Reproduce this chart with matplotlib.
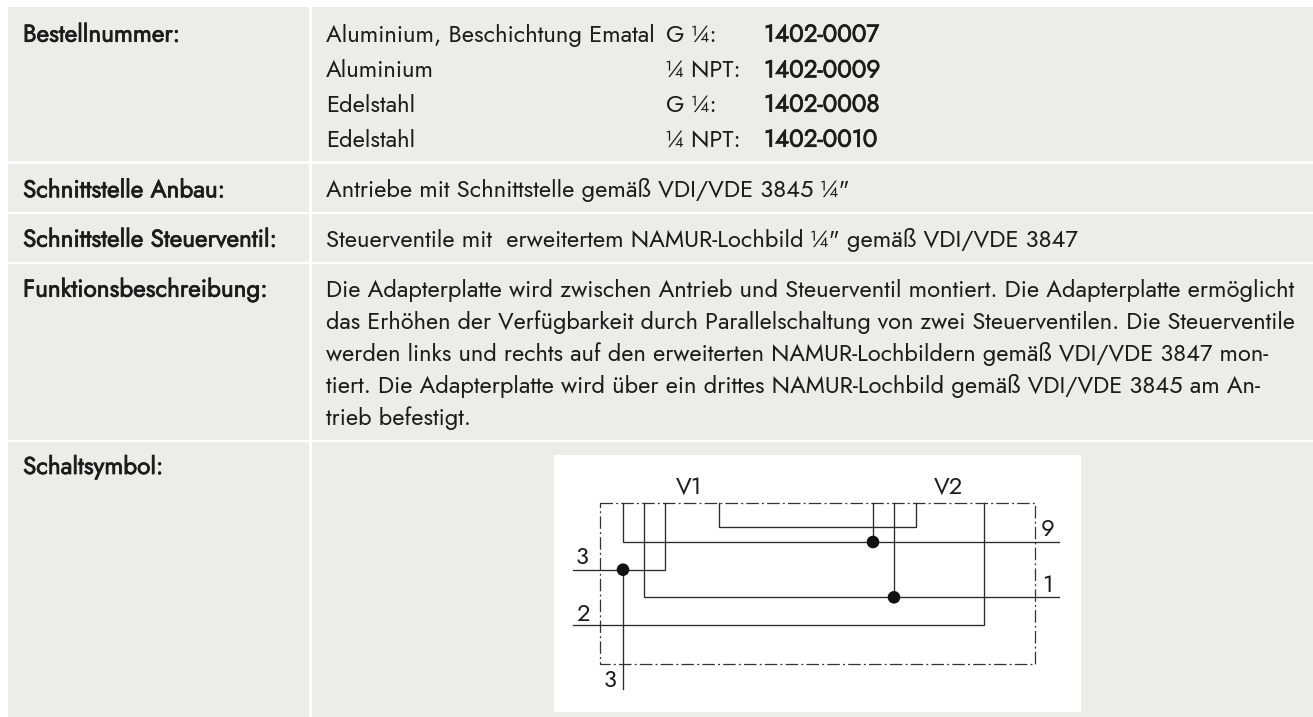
import matplotlib
matplotlib.use('Agg')
import matplotlib.pyplot as plt
import matplotlib.patheffects as pe
from matplotlib.patches import Rectangle, Circle

plt.rcParams['font.family'] = ['Jost', 'Lato', 'DejaVu Sans']
plt.rcParams['lines.scale_dashes'] = False

GREY = '#ececeb'
INK = '#1c1c1c'
BODY = 17.15
LABEL = 17.5
# the font has one weight here, so bold is thickened with a stroke
HEAVY = [pe.withStroke(linewidth=0.55, foreground=INK)]

# table rows, top and bottom in image pixels
row_tops = [7, 163.5, 213.5, 263.5, 442]
row_bottoms = [161, 211.5, 261.5, 439.5, 717]

labels = ['Bestellnummer:', 'Schnittstelle Anbau:', 'Schnittstelle Steuerventil:',
          'Funktionsbeschreibung:', 'Schaltsymbol:']
label_base = [41.7, 197.3, 246.7, 296.7, 474]

material = ['Aluminium, Beschichtung Ematal', 'Aluminium', 'Edelstahl', 'Edelstahl']
thread = ['G ¼:', '¼ NPT:', 'G ¼:', '¼ NPT:']
order_no = ['1402-0007', '1402-0009', '1402-0008', '1402-0010']
order_base = [41.7, 77.3, 111.7, 146.7]

anbau = 'Antriebe mit Schnittstelle gemäß VDI/VDE 3845 ¼"'
steuer = 'Steuerventile mit  erweitertem NAMUR-Lochbild ¼" gemäß VDI/VDE 3847'
beschreibung = ['Die Adapterplatte wird zwischen Antrieb und Steuerventil montiert. Die Adapterplatte ermöglicht',
                'das Erhöhen der Verfügbarkeit durch Parallelschaltung von zwei Steuerventilen. Die Steuerventile',
                'werden links und rechts auf den erweiterten NAMUR-Lochbildern gemäß VDI/VDE 3847 mon-',
                'tiert. Die Adapterplatte wird über ein drittes NAMUR-Lochbild gemäß VDI/VDE 3845 am An-',
                'trieb befestigt.']
beschreibung_base = [296.7, 328.7, 360.5, 392.5, 424.7]
# justified lines in the original, so the size differs a little per line
beschreibung_size = [17.12, 16.95, 17.0, 17.08, 17.0]

# circuit symbol
wires = [
    ([623, 623, 1058.6], [502.7, 542, 542]),
    ([643.6, 643.6, 1058.6], [502.7, 597.3, 597.3]),
    ([665.4, 665.4, 573], [502.7, 569.7, 569.7]),
    ([623, 623], [569.7, 688.7]),
    ([719, 719, 915.7, 915.7], [502.7, 527.3, 527.3, 502.7]),
    ([873, 873], [502.7, 542]),
    ([894, 894], [502.7, 597.3]),
    ([573, 984, 984], [625, 625, 502.7]),
]
dots = [(873, 542), (623, 569.7), (894, 597.3)]
port_names = ['V1', 'V2', '3', '9', '1', '2', '3']
port_x = [676, 934, 575.5, 1041, 1042, 576.4, 603.6]
port_y = [494, 494, 564.5, 536, 591.7, 620.7, 687]

fig = plt.figure(figsize=(13.13, 7.17), dpi=100)
ax = fig.add_axes([0, 0, 1, 1])
ax.set_xlim(0, 1313)
ax.set_ylim(717, 0)
ax.axis('off')

for top, bottom in zip(row_tops, row_bottoms):
    ax.add_patch(Rectangle((8, top), 301, bottom - top, fc=GREY, ec='none'))
    ax.add_patch(Rectangle((312, top), 1001, bottom - top, fc=GREY, ec='none'))

for name, y in zip(labels, label_base):
    ax.text(23, y, name, fontsize=LABEL, color=INK, va='baseline', path_effects=HEAVY)

for i in range(4):
    ax.text(326, order_base[i], material[i], fontsize=BODY, color=INK, va='baseline')
    ax.text(666, order_base[i], thread[i], fontsize=BODY, color=INK, va='baseline')
    ax.text(764, order_base[i], order_no[i], fontsize=LABEL, color=INK, va='baseline', path_effects=HEAVY)

ax.text(326, 197.3, anbau, fontsize=BODY, color=INK, va='baseline')
ax.text(326, 246.7, steuer, fontsize=BODY, color=INK, va='baseline')
for line, y, size in zip(beschreibung, beschreibung_base, beschreibung_size):
    ax.text(326, y, line, fontsize=size, color=INK, va='baseline')

# white box for the symbol
ax.add_patch(Rectangle((553.5, 455), 527.5, 257, fc='white', ec='none'))
ax.add_patch(Rectangle((600, 502.7), 434.6, 161.3, fc='none', ec='#333333', lw=0.9,
                       ls=(0, (9.0, 2.3, 1.4, 2.3))))
for xs, ys in wires:
    ax.plot(xs, ys, color='#2b2b2b', lw=0.95, solid_joinstyle='miter')
for x, y in dots:
    ax.add_patch(Circle((x, y), 6.3, fc='#111111', ec='none', zorder=3))
for name, x, y in zip(port_names, port_x, port_y):
    ax.text(x, y, name, fontsize=BODY, color=INK, va='baseline')

fig.savefig('out.png', dpi=100)
